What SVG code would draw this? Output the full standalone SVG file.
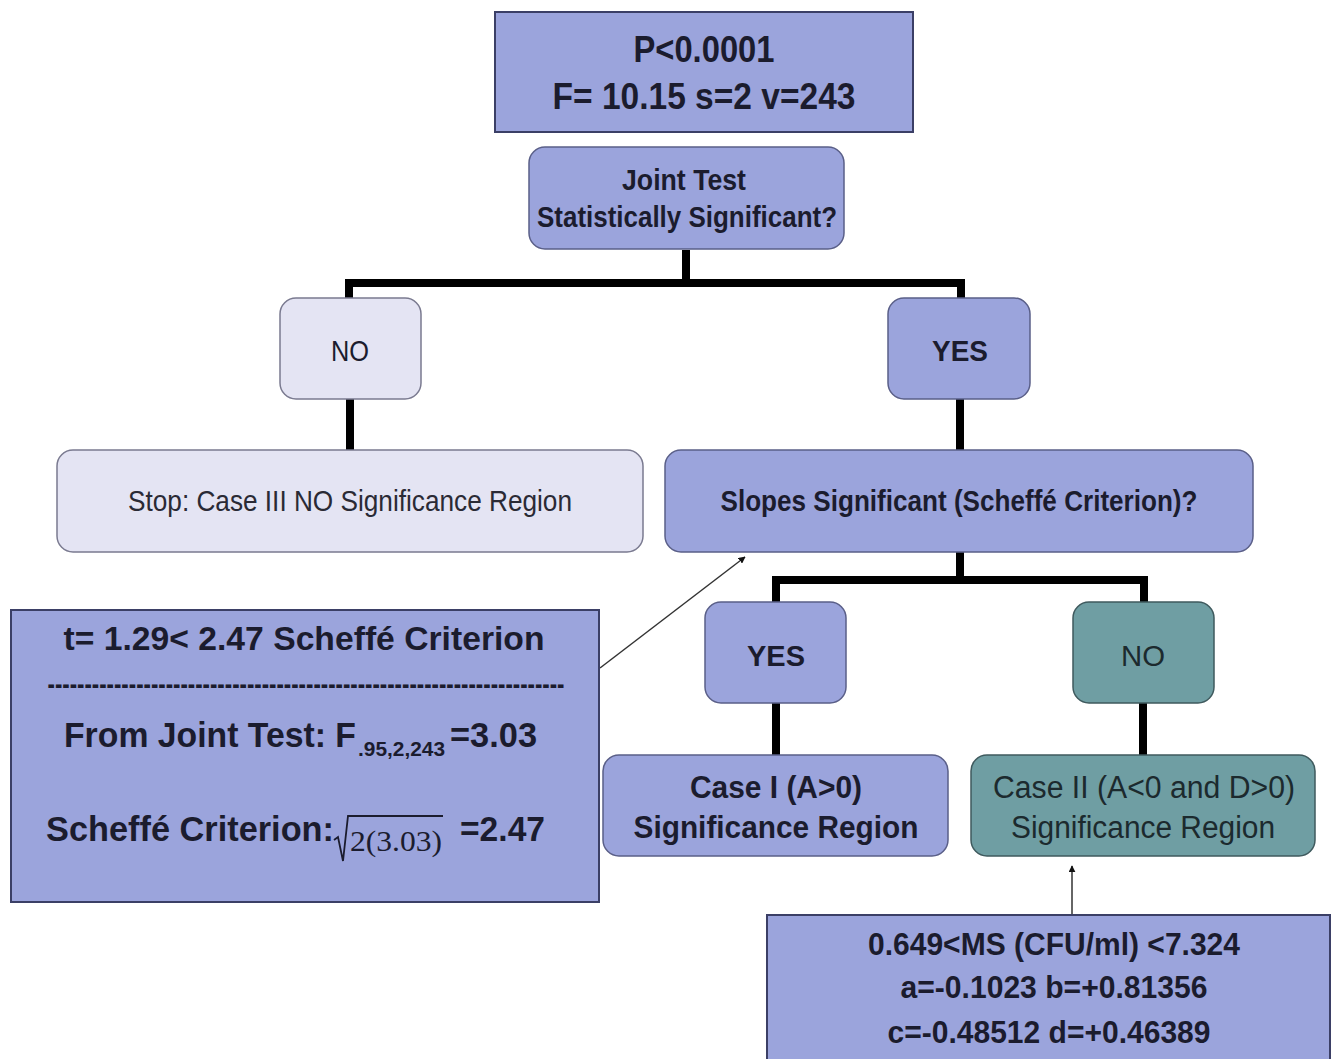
<svg xmlns="http://www.w3.org/2000/svg" width="1337" height="1059" viewBox="0 0 1337 1059">
<defs>
<style>
.t{font-family:"Liberation Sans Narrow","Liberation Sans",Arial,sans-serif;fill:#1b1c2e;text-anchor:middle}
.b{font-weight:bold}
.r{font-weight:normal}
.l{text-anchor:start}
.sq{fill:#9ba4dc;stroke:#3b3f66;stroke-width:2}
.rb{fill:#9ba4dc;stroke:#5a5f88;stroke-width:1.5}
.lt{fill:#e4e4f3;stroke:#7a7a90;stroke-width:1.5}
.tl{fill:#6f9ea3;stroke:#3f5a5e;stroke-width:1.5}
.conn{fill:none;stroke:#000;stroke-width:8}
.thin{fill:none;stroke:#333;stroke-width:1.5}
</style>
<marker id="ah" viewBox="0 0 10 10" refX="9" refY="5" markerWidth="7" markerHeight="7" orient="auto" markerUnits="userSpaceOnUse">
<path d="M0,0 L10,5 L0,10 z" fill="#111"/>
</marker>
</defs>
<rect width="1337" height="1059" fill="#fff"/>

<g id="connectors">
<path class="conn" d="M686 250 V283"/>
<path class="conn" d="M349 299 V283 H961 V299"/>
<path class="conn" d="M350 399 V451"/>
<path class="conn" d="M960 399 V451"/>
<path class="conn" d="M960 552 V580"/>
<path class="conn" d="M776 603 V580 H1144 V603"/>
<path class="conn" d="M776 703 V756"/>
<path class="conn" d="M1143 703 V756"/>
<line class="thin" x1="600" y1="668" x2="745" y2="557" marker-end="url(#ah)"/>
<line class="thin" x1="1072" y1="915" x2="1072" y2="866" marker-end="url(#ah)"/>
</g>

<g id="n-top">
<rect class="sq" x="495" y="12" width="418" height="120"/>
<text class="t b" x="704" y="62" font-size="36" textLength="141" lengthAdjust="spacingAndGlyphs">P&lt;0.0001</text>
<text class="t b" x="704" y="109" font-size="36" textLength="303" lengthAdjust="spacingAndGlyphs">F= 10.15 s=2 v=243</text>
</g>

<g id="n-joint">
<rect class="rb" x="529" y="147" width="315" height="102" rx="16"/>
<text class="t b" x="684" y="190" font-size="29" textLength="124" lengthAdjust="spacingAndGlyphs">Joint Test</text>
<text class="t b" x="687" y="227" font-size="29" textLength="300" lengthAdjust="spacingAndGlyphs">Statistically Significant?</text>
</g>

<g id="n-no1">
<rect class="lt" x="280" y="298" width="141" height="101" rx="16"/>
<text class="t r" x="350" y="361" font-size="30" textLength="38" lengthAdjust="spacingAndGlyphs" fill="#222">NO</text>
</g>

<g id="n-yes1">
<rect class="rb" x="888" y="298" width="142" height="101" rx="16"/>
<text class="t b" x="960" y="361" font-size="30" textLength="56" lengthAdjust="spacingAndGlyphs">YES</text>
</g>

<g id="n-stop">
<rect class="lt" x="57" y="450" width="586" height="102" rx="16"/>
<text class="t r" x="350" y="511" font-size="29" textLength="444" lengthAdjust="spacingAndGlyphs" style="fill:#2a2a35">Stop: Case III NO Significance Region</text>
</g>

<g id="n-slopes">
<rect class="rb" x="665" y="450" width="588" height="102" rx="16"/>
<text class="t b" x="959" y="511" font-size="29" textLength="477" lengthAdjust="spacingAndGlyphs">Slopes Significant (Scheffé Criterion)?</text>
</g>

<g id="n-yes2">
<rect class="rb" x="705" y="602" width="141" height="101" rx="16"/>
<text class="t b" x="776" y="666" font-size="30" textLength="58" lengthAdjust="spacingAndGlyphs">YES</text>
</g>

<g id="n-no2">
<rect class="tl" x="1073" y="602" width="141" height="101" rx="16"/>
<text class="t r" x="1143" y="666" font-size="30" textLength="44" lengthAdjust="spacingAndGlyphs" style="fill:#1c2a2e">NO</text>
</g>

<g id="n-case1">
<rect class="rb" x="603" y="755" width="345" height="101" rx="16"/>
<text class="t b" x="776" y="798" font-size="31" textLength="172" lengthAdjust="spacingAndGlyphs">Case I (A&gt;0)</text>
<text class="t b" x="776" y="838" font-size="31" textLength="285" lengthAdjust="spacingAndGlyphs">Significance Region</text>
</g>

<g id="n-case2">
<rect class="tl" x="971" y="755" width="344" height="101" rx="16"/>
<text class="t r" x="1144" y="798" font-size="31" textLength="302" lengthAdjust="spacingAndGlyphs" style="fill:#1c2a2e">Case II (A&lt;0 and D&gt;0)</text>
<text class="t r" x="1143" y="838" font-size="31" textLength="264" lengthAdjust="spacingAndGlyphs" style="fill:#1c2a2e">Significance Region</text>
</g>

<g id="n-scheffe">
<rect class="sq" x="11" y="610" width="588" height="292"/>
<text class="t b" x="304" y="650" font-size="34" textLength="481" lengthAdjust="spacingAndGlyphs">t= 1.29&lt; 2.47 Scheffé Criterion</text>
<text class="t b" x="306" y="694" font-size="30" textLength="517" lengthAdjust="spacingAndGlyphs">----------------------------------------------------------------------</text>
<text class="t b l" x="64" y="747" font-size="35" textLength="292" lengthAdjust="spacingAndGlyphs">From Joint Test: F</text>
<text class="t b l" x="358" y="756" font-size="20" textLength="87" lengthAdjust="spacingAndGlyphs">.95,2,243</text>
<text class="t b l" x="450" y="747" font-size="35" textLength="87" lengthAdjust="spacingAndGlyphs">=3.03</text>
<text class="t b l" x="46" y="841" font-size="35" textLength="288" lengthAdjust="spacingAndGlyphs">Scheffé Criterion:</text>
<polyline points="334,840 338,837 343,861 348,816 443,816" fill="none" stroke="#1b1c2e" stroke-width="1.8" stroke-linejoin="miter"/>
<text x="350" y="851" font-family="'Liberation Serif','Times New Roman',serif" font-size="30" fill="#1b1c2e" textLength="92" lengthAdjust="spacingAndGlyphs">2(3.03)</text>
<text class="t b l" x="460" y="841" font-size="35" textLength="85" lengthAdjust="spacingAndGlyphs">=2.47</text>
</g>

<g id="n-params">
<rect class="sq" x="767" y="915" width="563" height="150"/>
<text class="t b" x="1054" y="955" font-size="31" textLength="372" lengthAdjust="spacingAndGlyphs">0.649&lt;MS (CFU/ml) &lt;7.324</text>
<text class="t b" x="1054" y="998" font-size="31" textLength="307" lengthAdjust="spacingAndGlyphs">a=-0.1023 b=+0.81356</text>
<text class="t b" x="1049" y="1043" font-size="31" textLength="323" lengthAdjust="spacingAndGlyphs">c=-0.48512 d=+0.46389</text>
</g>
</svg>
